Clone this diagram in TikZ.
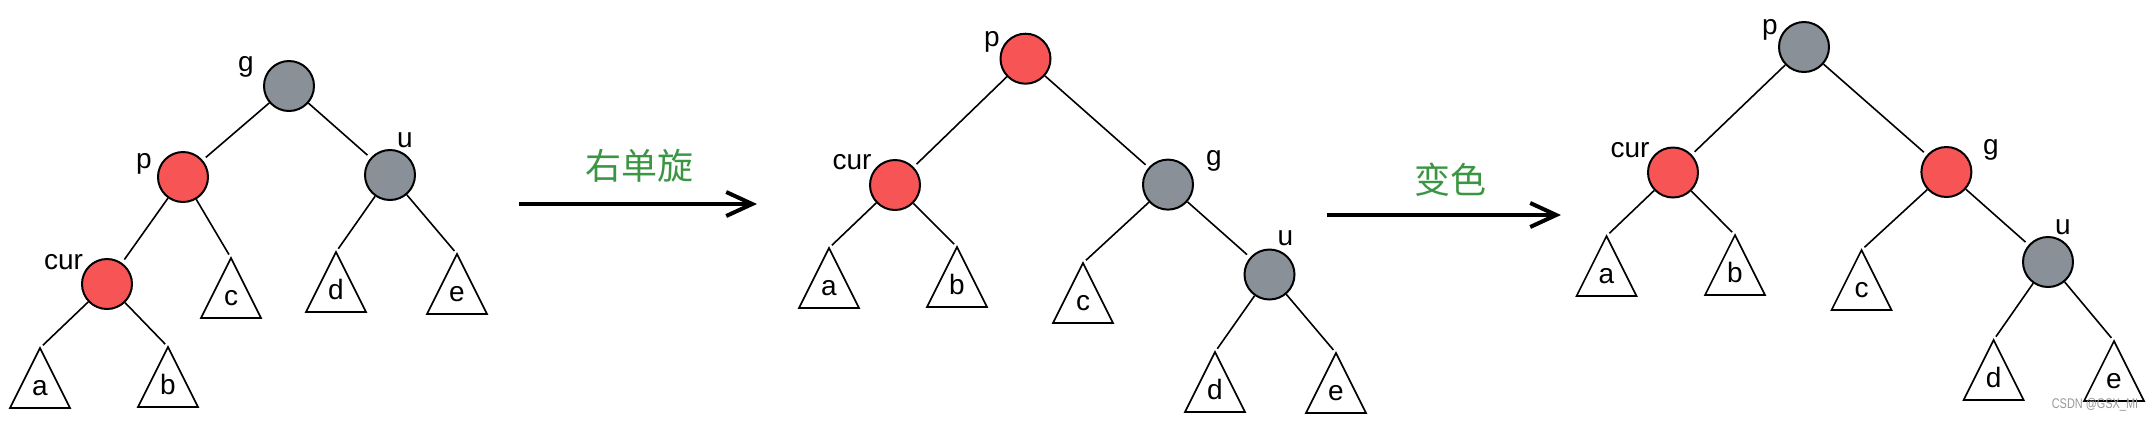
\documentclass[tikz,border=0pt]{standalone}
\usepackage{fontspec}
\setmainfont{Liberation Sans}
\newfontfamily\cjk{Noto Sans CJK SC}
\usetikzlibrary{arrows.meta}
\definecolor{rbred}{RGB}{247,84,86}
\definecolor{rbgray}{RGB}{137,144,151}
\definecolor{opgreen}{RGB}{58,150,66}

\begin{document}
\begin{tikzpicture}[x=0.5pt,y={(0pt,-0.5pt)},
  rednode/.style={circle,draw,line width=1pt,fill=rbred,minimum size=25pt,inner sep=0pt},
  graynode/.style={circle,draw,line width=1pt,fill=rbgray,minimum size=25pt,inner sep=0pt},
  lbl/.style={font=\fontsize{14}{16}\selectfont,inner sep=0pt},
  tri/.style={draw,line width=0.8pt,line join=miter},
  op/.style={font=\cjk\fontsize{18}{20}\selectfont,text=opgreen,inner sep=0pt},
  bigarrow/.style={line width=2pt,-{Straight Barb[length=13pt,width=12pt]}},
  every edge/.style={draw,line width=0.8pt,shorten >=2pt}]
\useasboundingbox (0,0) rectangle (2154,420);

% tree before the rotation
\node[graynode](g1) at (289,86){};
\node[rednode](p1) at (183,177){};
\node[graynode](u1) at (390,175){};
\node[rednode](cur1) at (107,284){};
\node[lbl](lg1) at (246,67){g};
\node[lbl](lp1) at (144,164){p};
\node[lbl](lu1) at (405,140){u};
\node[lbl](lcur1) at (63.5,262){cur};

% tree after the rotation
\node[rednode](p2) at (1025.5,58.7){};
\node[rednode](cur2) at (895,185){};
\node[graynode](g2) at (1168,184.6){};
\node[graynode](u2) at (1269.5,274.5){};
\node[lbl](lp2) at (992,42){p};
\node[lbl](lcur2) at (852,162){cur};
\node[lbl](lg2) at (1214,161){g};
\node[lbl](lu2) at (1285.5,238){u};

% tree after the recolouring
\node[graynode](p3) at (1804,47){};
\node[rednode](cur3) at (1673,172.5){};
\node[rednode](g3) at (1946.4,172){};
\node[graynode](u3) at (2048,262){};
\node[lbl](lp3) at (1770,29.5){p};
\node[lbl](lcur3) at (1630,150){cur};
\node[lbl](lg3) at (1991,150){g};
\node[lbl](lu3) at (2063,227.5){u};

% subtrees
\foreach \n/\x/\y/\t in {a1/40/348/a,b1/168/347/b,c1/231/258/c,d1/336/252/d,e1/457/254/e,
  a2/829/248/a,b2/957/247/b,c2/1083/263/c,d2/1215/352/d,e2/1336/353/e,
  a3/1606.5/236/a,b3/1735/235/b,c3/1861.5/250/c,d3/1993.6/340/d,e3/2114/341/e}{
  \coordinate(\n) at (\x,\y);
  \draw[tri] (\n) -- ++(-30,60) -- ++(60,0) -- cycle;
  \node[lbl,anchor=base](t\n) at (\x,\y+47){\t};
}

\path
(g1) edge (p1)
(g1) edge (u1)
(p1) edge (cur1)
(p1) edge (c1)
(cur1) edge (a1)
(cur1) edge (b1)
(u1) edge (d1)
(u1) edge (e1);

\path
(p2) edge (cur2)
(p2) edge (g2)
(cur2) edge (a2)
(cur2) edge (b2)
(g2) edge (c2)
(g2) edge (u2)
(u2) edge (d2)
(u2) edge (e2);

\path
(p3) edge (cur3)
(p3) edge (g3)
(cur3) edge (a3)
(cur3) edge (b3)
(g3) edge (c3)
(g3) edge (u3)
(u3) edge (d3)
(u3) edge (e3);

% arrows between the trees
\coordinate(rotA) at (519,204);
\coordinate(rotB) at (757,204);
\coordinate(colA) at (1327,215);
\coordinate(colB) at (1561,215);
\draw[bigarrow] (rotA) -- (rotB);
\draw[bigarrow] (colA) -- (colB);
\node[op](rot) at (639.5,165.5){右单旋};
\node[op](recol) at (1450,180){变色};

\node[font=\fontsize{7}{8}\selectfont,text=black!40,inner sep=0pt](mark) at (2095,405){\scalebox{0.78}[1]{CSDN @GSX\_MI}};
\end{tikzpicture}
\end{document}
